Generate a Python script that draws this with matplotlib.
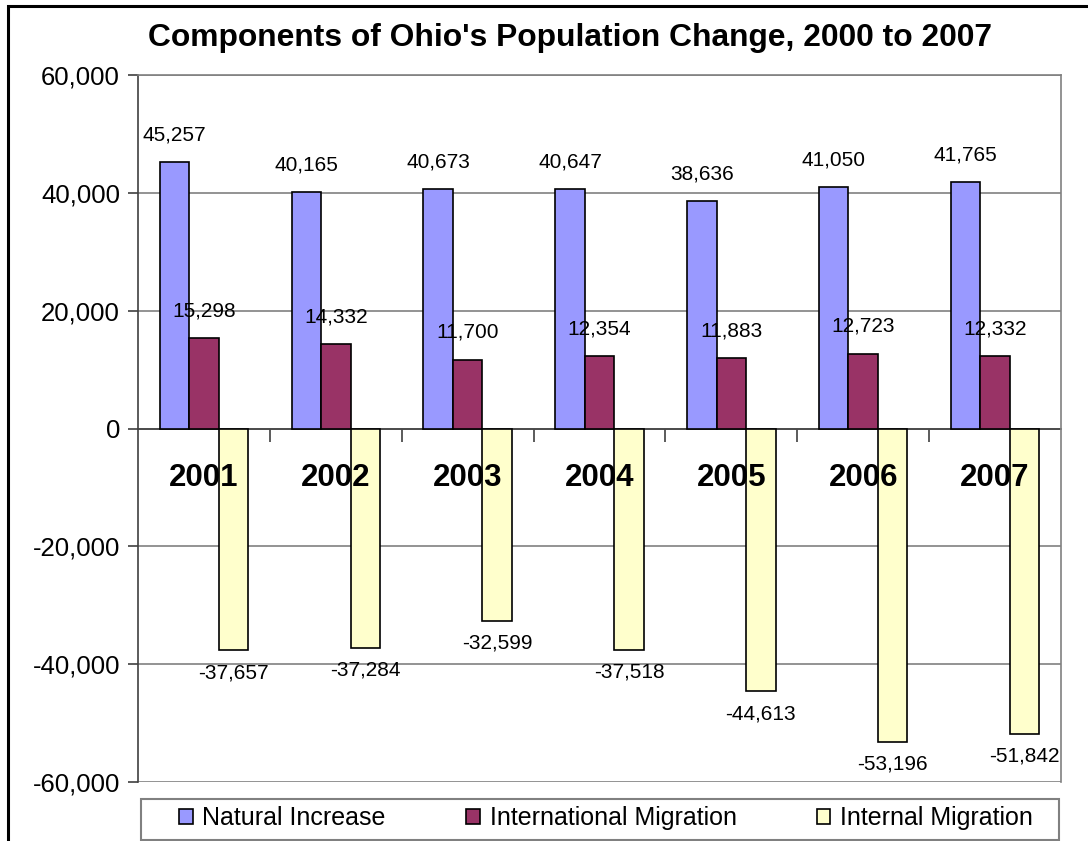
import matplotlib
matplotlib.use('Agg')
import matplotlib.pyplot as plt
import numpy as np
from matplotlib.patches import Rectangle, Patch
from matplotlib.ticker import FuncFormatter

plt.rcParams['font.family'] = ['Liberation Sans', 'DejaVu Sans']

years = ['2001', '2002', '2003', '2004', '2005', '2006', '2007']
natural = [45257, 40165, 40673, 40647, 38636, 41050, 41765]
international = [15298, 14332, 11700, 12354, 11883, 12723, 12332]
internal = [-37657, -37284, -32599, -37518, -44613, -53196, -51842]

series = ['Natural Increase', 'International Migration', 'Internal Migration']
colors = ['#9999FF', '#993366', '#FFFFCC']

W, H = 1088, 841
fig = plt.figure(figsize=(W / 100, H / 100), dpi=100)
ax = fig.add_axes([138 / W, 1 - 782 / H, (1061 - 138) / W, (782 - 75) / H])

x = np.arange(len(years))
w = 0.2236
for k, (vals, c) in enumerate(zip([natural, international, internal], colors)):
    bars = ax.bar(x + (k - 1) * w, vals, w, color=c, edgecolor='black',
                  linewidth=1.2, zorder=3, label=series[k])
    for b, v in zip(bars, vals):
        off = 19.5 if v >= 0 else -16
        ax.annotate(f'{v:,}', (b.get_x() + b.get_width() / 2, v),
                    xytext=(0, off), textcoords='offset points',
                    ha='center', va='center', fontsize=15, zorder=4)

for i, yr in enumerate(years):
    ax.text(i, -8400, yr, ha='center', va='center', fontsize=22.5,
            fontweight='bold', zorder=5)

ax.set_xlim(-0.5, len(years) - 0.5)
ax.set_ylim(-60000, 60000)
ax.set_yticks(np.arange(-60000, 60001, 20000))
ax.yaxis.set_major_formatter(FuncFormatter(lambda v, p: f'{v:,.0f}'))
ax.set_xticks(np.arange(0.5, len(years) - 1, 1))
ax.set_xticklabels([])
ax.grid(axis='y', color='#808080', linewidth=1.2, zorder=0)

ax.spines['bottom'].set_position(('data', 0))
ax.spines['bottom'].set_color('#404040')
ax.spines['bottom'].set_zorder(2)
ax.spines['left'].set_color('#404040')
ax.spines['top'].set_color('#808080')
ax.spines['right'].set_color('#808080')
for s in ax.spines.values():
    s.set_linewidth(1.2)
ax.tick_params(axis='y', direction='out', length=7, width=1.2,
               color='#404040', labelsize=18.5, pad=6)
ax.tick_params(axis='x', direction='out', length=9, width=1.2,
               color='#404040')

fig.text(570 / W, 1 - 46 / H, "Components of Ohio's Population Change, 2000 to 2007",
         ha='center', va='baseline', fontsize=22.9, fontweight='bold')

# legend frame
fig.patches.append(Rectangle((141 / W, 1 - 840 / H), (1059 - 141) / W, 41 / H,
                             transform=fig.transFigure, facecolor='white',
                             edgecolor='#808080', linewidth=1.5))
handles = [Patch(facecolor=c, edgecolor='black', linewidth=1.2) for c in colors]
fig.legend(handles, series, loc='center', bbox_to_anchor=(606 / W, 1 - 818 / H),
           ncol=3, frameon=False, fontsize=18, handlelength=0.55,
           handleheight=0.55, handletextpad=0.4, columnspacing=3.2,
           borderpad=0.2)

# outer chart border
fig.patches.append(Rectangle((8 / W, -0.1), 2, 1.1 - 6 / H,
                             transform=fig.transFigure, facecolor='none',
                             edgecolor='black', linewidth=2.2))

fig.savefig('out.png', dpi=100)
